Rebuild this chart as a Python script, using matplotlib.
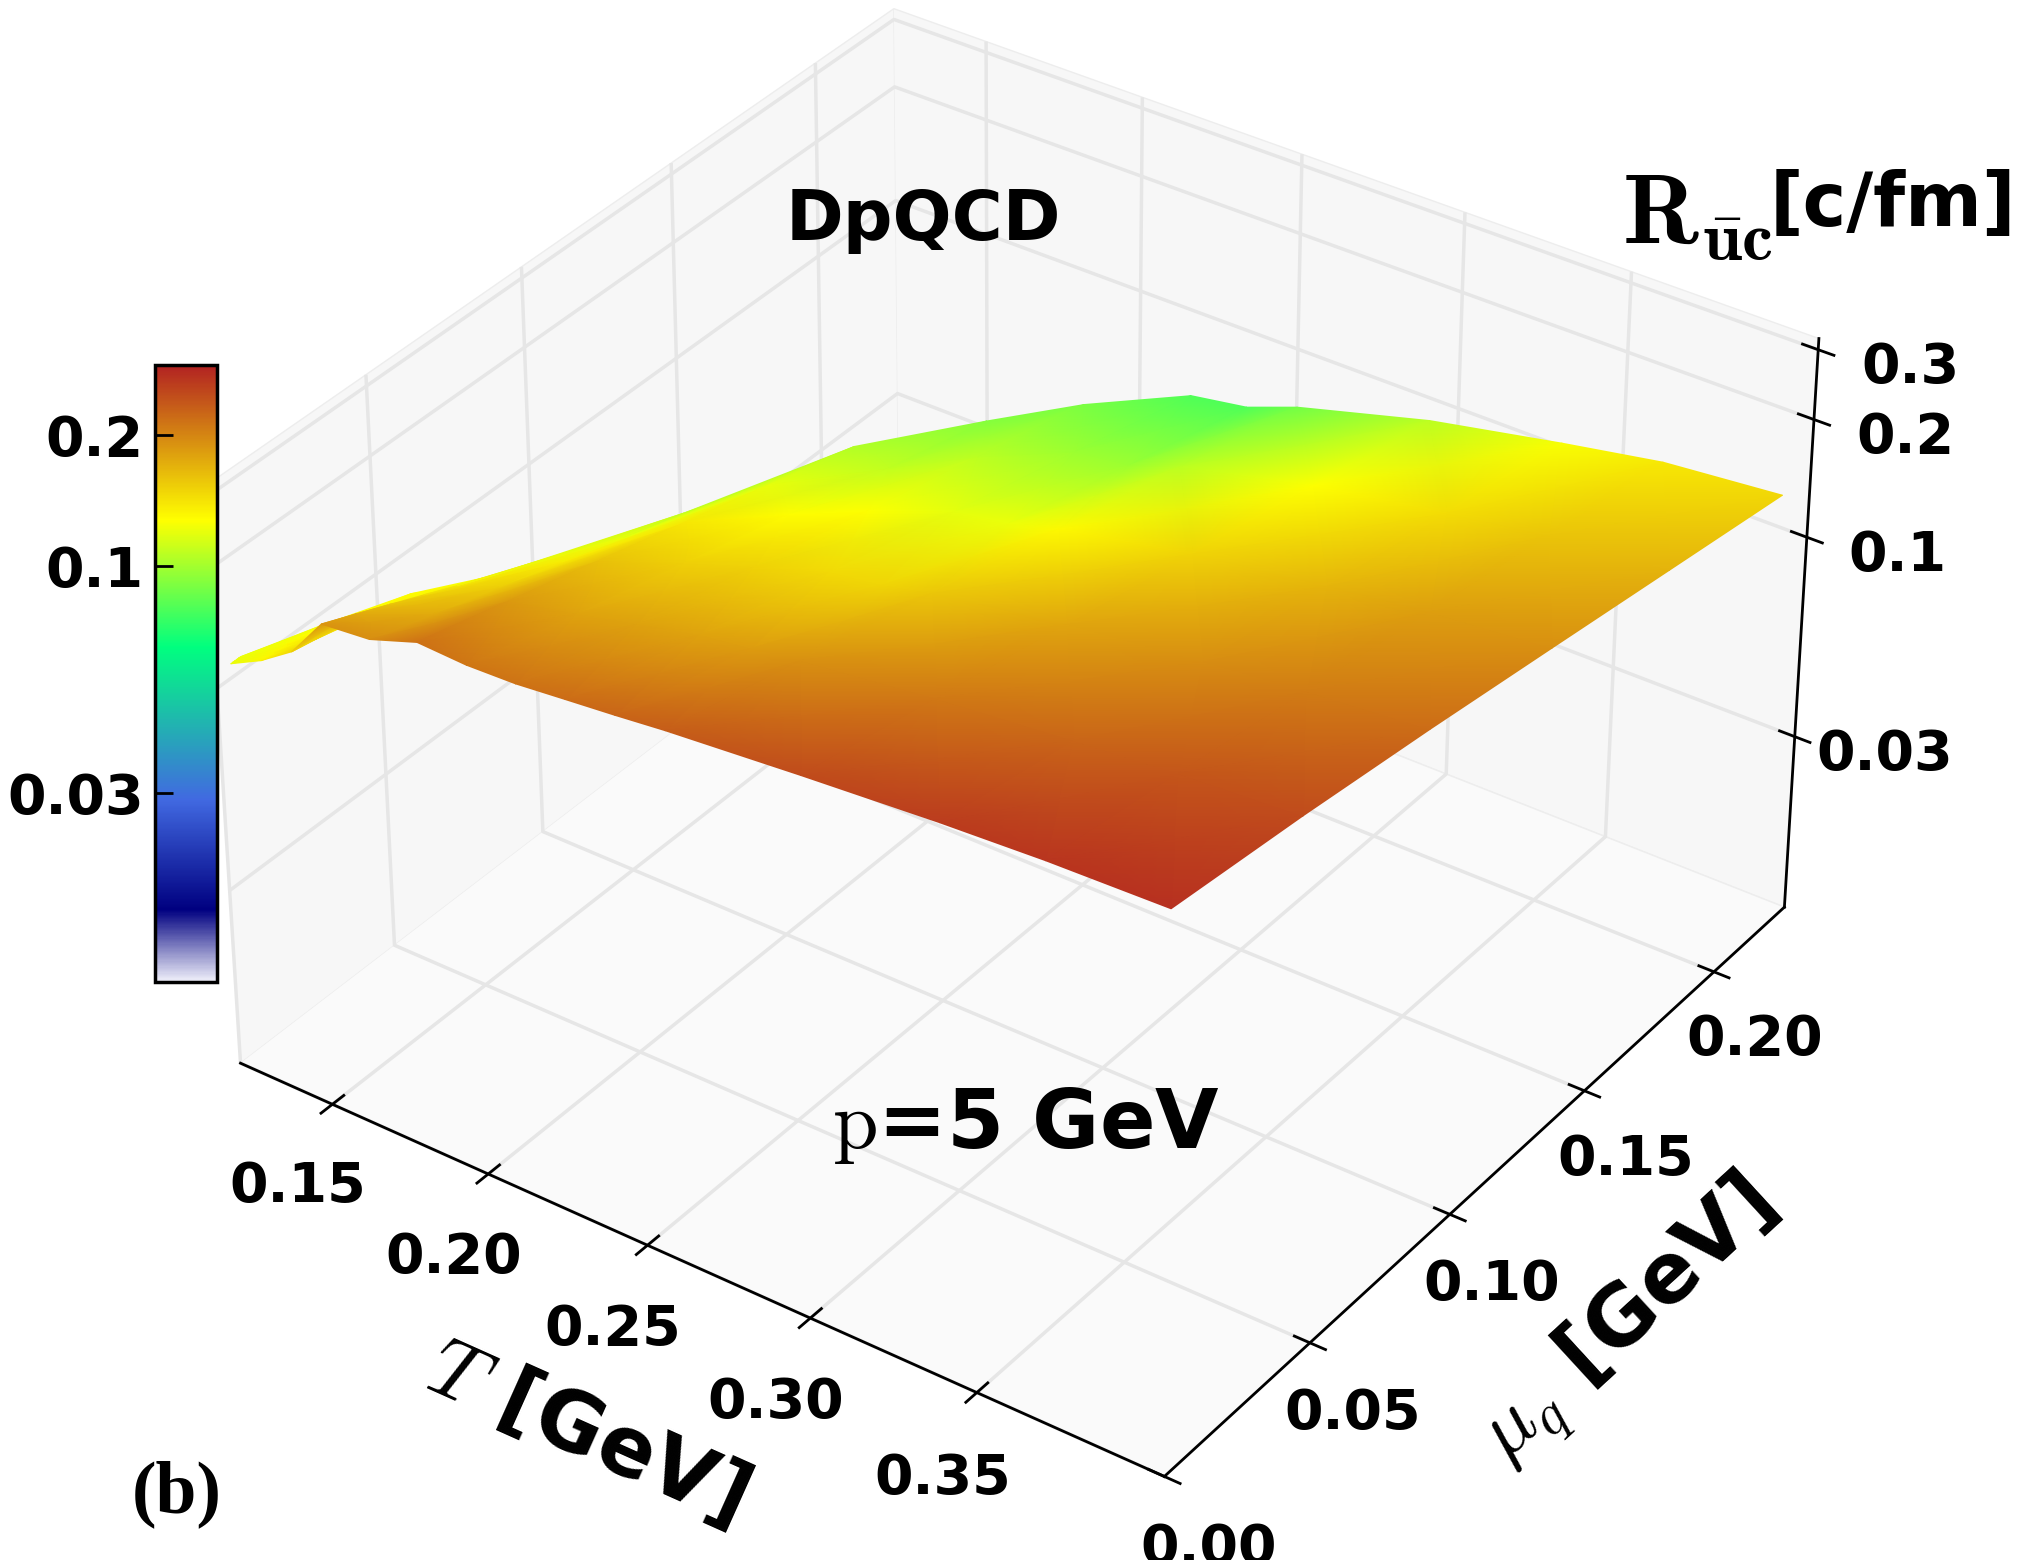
import numpy as np
import matplotlib
matplotlib.use("Agg")
import matplotlib.pyplot as plt
from matplotlib.colors import LinearSegmentedColormap, LogNorm
from mpl_toolkits.mplot3d import proj3d

plt.rcParams['mathtext.fontset'] = 'cm'
plt.rcParams['font.family'] = 'DejaVu Sans'
plt.rcParams['font.weight'] = 'bold'

# values
T_values = [0.125, 0.135, 0.145, 0.155, 0.17, 0.185, 0.20, 0.215, 0.23, 0.245, 0.26, 0.30, 0.34, 0.37, 0.405]
mu_top = [0.003, 0.02, 0.037, 0.052, 0.10, 0.142, 0.172, 0.19, 0.212, 0.215, 0.216, 0.217, 0.217, 0.217, 0.217]
mu_fraction = [0.0, 0.2, 0.4, 0.6, 0.8, 1.0]
R_values = [
    [0.120, 0.120, 0.120, 0.120, 0.120, 0.120],
    [0.132, 0.131, 0.130, 0.128, 0.127, 0.125],
    [0.150, 0.146, 0.141, 0.137, 0.132, 0.128],
    [0.190, 0.175, 0.161, 0.148, 0.136, 0.125],
    [0.195, 0.173, 0.154, 0.137, 0.121, 0.108],
    [0.215, 0.186, 0.161, 0.139, 0.120, 0.104],
    [0.212, 0.179, 0.152, 0.128, 0.108, 0.092],
    [0.214, 0.180, 0.151, 0.127, 0.107, 0.090],
    [0.220, 0.179, 0.146, 0.119, 0.098, 0.080],
    [0.226, 0.184, 0.149, 0.121, 0.098, 0.080],
    [0.233, 0.192, 0.158, 0.130, 0.107, 0.088],
    [0.248, 0.210, 0.178, 0.150, 0.127, 0.107],
    [0.262, 0.226, 0.195, 0.168, 0.145, 0.125],
    [0.270, 0.238, 0.208, 0.182, 0.159, 0.139],
    [0.275, 0.248, 0.220, 0.193, 0.169, 0.148],
]
T_ticks = [0.15, 0.20, 0.25, 0.30, 0.35]
T_labels = ['0.15', '0.20', '0.25', '0.30', '0.35']
mu_ticks = [0.00, 0.05, 0.10, 0.15, 0.20]
mu_labels = ['0.00', '0.05', '0.10', '0.15', '0.20']
R_ticks = [0.03, 0.1, 0.2, 0.3]
R_labels = ['0.03', '0.1', '0.2', '0.3']
cbar_ticks = [0.03, 0.1, 0.2]
cbar_labels = ['0.03', '0.1', '0.2']

W, H = 2021, 1560
fig = plt.figure(figsize=(W / 100, H / 100), dpi=100)

ax = fig.add_axes([-0.067, -0.078, 1.12, 1.22], projection='3d')
ax.set_facecolor('none')
ax.set_proj_type('persp', focal_length=0.85)
ax.view_init(elev=34.4, azim=-54.7)
ax.set_box_aspect((4, 4, 2.45), zoom=0.89)
ax.set_xlim(0.12, 0.405, view_margin=0)
ax.set_ylim(0.0, 0.228, view_margin=0)
ax.set_zlim(np.log10(0.0104), np.log10(0.32), view_margin=0)

ax.set_xticks(T_ticks, T_labels)
ax.set_yticks(mu_ticks, mu_labels)
ax.set_zticks(np.log10(R_ticks), R_labels)
ax.tick_params(labelsize=40, pad=28)
ax.tick_params(axis='y', pad=24)
ax.tick_params(axis='z', pad=34)
ax.set_xlabel(r'$T$ [GeV]', fontsize=60, labelpad=85, fontweight='bold')
ax.set_ylabel(r'$\mu_q$ [GeV]', fontsize=60, labelpad=85, fontweight='bold')

for axis, shade in ((ax.xaxis, 0.97), (ax.yaxis, 0.97), (ax.zaxis, 0.98)):
    axis.set_pane_color((shade, shade, shade, 1.0))
    axis.pane.set_edgecolor((0.93, 0.93, 0.93))
    axis.line.set_color('black')
    axis.line.set_linewidth(2)
    axis._axinfo['grid']['color'] = (0.9, 0.9, 0.9, 1.0)
    axis._axinfo['grid']['linewidth'] = 2.5
    axis._axinfo['tick']['linewidth'] = {True: 2, False: 1}
    axis._axinfo['tick']['inward_factor'] = 0.2
    axis._axinfo['tick']['outward_factor'] = 0.2

cmap = LinearSegmentedColormap.from_list('rate', [
    (0.0, '#f0f0fa'), (0.117, 'navy'), (0.295, 'royalblue'),
    (0.543, 'springgreen'), (0.749, 'yellow'), (1.0, 'firebrick')], N=512)
norm = LogNorm(vmin=0.011, vmax=0.29)

# project the table with the 3d axes and shade it smoothly in a flat overlay
fig.canvas.draw()
T_grid = np.repeat(np.array(T_values)[:, None], len(mu_fraction), axis=1)
mu_grid = np.outer(mu_top, mu_fraction)
R_grid = np.array(R_values)
px, py, _ = proj3d.proj_transform(T_grid.ravel(), mu_grid.ravel(),
                                  np.log10(R_grid).ravel(), ax.get_proj())
disp = ax.transData.transform(np.column_stack([px, py]))
overlay = fig.add_axes([0, 0, 1, 1], zorder=5)
overlay.set_xlim(0, W)
overlay.set_ylim(0, H)
overlay.axis('off')
overlay.pcolormesh(disp[:, 0].reshape(T_grid.shape), disp[:, 1].reshape(T_grid.shape),
                   R_grid, cmap=cmap, norm=norm, shading='gouraud')

cax = fig.add_axes([155 / W, 1 - 982 / H, 62 / W, 617 / H], zorder=6)
sm = plt.cm.ScalarMappable(norm=norm, cmap=cmap)
cb = fig.colorbar(sm, cax=cax)
cb.ax.yaxis.set_ticks_position('left')
cb.set_ticks(cbar_ticks, labels=cbar_labels)
cb.ax.minorticks_off()
cb.ax.tick_params(direction='in', length=13, width=2, labelsize=40, pad=8)
cb.outline.set_linewidth(2.5)

fig.text(923 / W, 1 - 221 / H, 'DpQCD', fontsize=50, ha='center', va='center', zorder=7)
fig.text(1622 / W, 1 - 243 / H, r'$\mathbf{R}_{\bar{\mathbf{u}}\mathbf{c}}$',
         fontsize=72, ha='left', va='baseline', zorder=7)
fig.text(2016 / W, 1 - 205 / H, '[c/fm]', fontsize=53, ha='right', va='center', zorder=7)
fig.text(1026 / W, 1 - 1125 / H, r'$\mathrm{p}$=5 GeV', fontsize=59, ha='center',
         va='center', zorder=7)
fig.text(177 / W, 1 - 1494 / H, '(b)', fontsize=53, family='Liberation Serif',
         ha='center', va='center', zorder=7)

fig.savefig('out.png', dpi=100)
